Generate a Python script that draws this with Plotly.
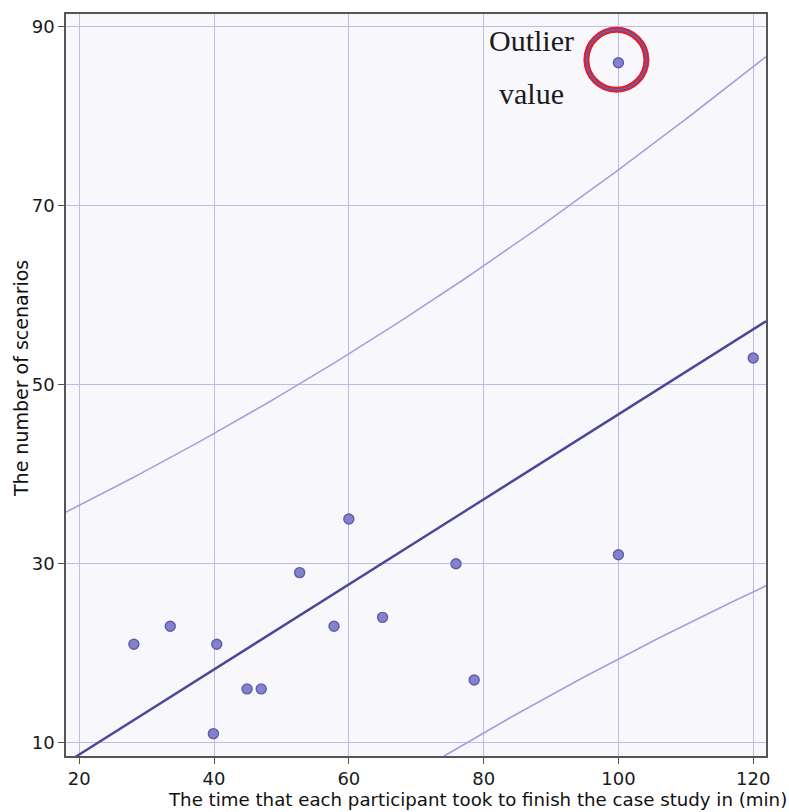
import numpy as np
import plotly.graph_objects as go

# Time each participant needed (min) and number of scenarios they produced
time_min = [28.1, 33.5, 40.4, 39.9, 44.9, 47.0, 52.7, 57.8, 60.0, 65.0, 75.9, 78.6, 100.0, 100.0, 120.0]
scenarios = [21, 23, 21, 11, 16, 16, 29, 23, 35, 24, 30, 17, 31, 86, 53]

x_ticks = [20, 40, 60, 80, 100, 120]
y_ticks = [10, 30, 50, 70, 90]
x_range = [18.03, 121.9]
y_range = [8.5, 91.45]

# Least-squares fit with a 90% prediction band (t, df = n - 2 = 13)
T_CRIT = 1.7709
x = np.asarray(time_min, float)
y = np.asarray(scenarios, float)
n = len(x)
slope, intercept = np.polyfit(x, y, 1)
resid = y - (slope * x + intercept)
s = np.sqrt((resid ** 2).sum() / (n - 2))
sxx = ((x - x.mean()) ** 2).sum()
xs = np.linspace(x_range[0], x_range[1], 200)
fit = slope * xs + intercept
half = T_CRIT * s * np.sqrt(1 + 1 / n + (xs - x.mean()) ** 2 / sxx)

BAND = "#a29fe0"
FIT = "#4a4896"
GRID = "#bcbce6"
FONT = "DejaVu Sans"

W, H = 789, 812
L, R, T, B = 66, 23, 12, 56


def px_to_paper(px, py):
    return (px - L) / (W - L - R), 1 - (py - T) / (H - T - B)


fig = go.Figure()
fig.add_trace(go.Scatter(x=xs, y=fit + half, mode="lines",
                         line=dict(color=BAND, width=1.6), hoverinfo="skip"))
fig.add_trace(go.Scatter(x=xs, y=fit - half, mode="lines",
                         line=dict(color=BAND, width=1.6), hoverinfo="skip"))
fig.add_trace(go.Scatter(x=xs, y=fit, mode="lines",
                         line=dict(color=FIT, width=2.4), hoverinfo="skip"))
fig.add_trace(go.Scatter(x=time_min, y=scenarios, mode="markers",
                         marker=dict(size=10, color="#8482cc",
                                     line=dict(color="#5e5caa", width=1.4))))

# Highlight the outlying participant
i_out = int(np.argmax(scenarios))
ox, oy = time_min[i_out], scenarios[i_out]
for col, w in (("#e0202a", 6), ("#4a6ad0", 1.3)):
    fig.add_shape(type="circle", xref="x", yref="y",
                  xsizemode="pixel", ysizemode="pixel",
                  xanchor=ox, yanchor=oy,
                  x0=-32, x1=28, y0=-27, y1=33,
                  line=dict(color=col, width=w))

fig.add_annotation(x=ox, y=oy, xref="x", yref="y", text="Outlier",
                   showarrow=False, xshift=-87, yshift=22,
                   font=dict(family="Liberation Serif", size=30, color="#1a1a1a"))
fig.add_annotation(x=ox, y=oy, xref="x", yref="y", text="value",
                   showarrow=False, xshift=-87, yshift=-31,
                   font=dict(family="Liberation Serif", size=30, color="#1a1a1a"))

# Axis titles
tx, ty = px_to_paper(477, 800)
fig.add_annotation(x=tx, y=ty, xref="paper", yref="paper", xanchor="center", yanchor="middle",
                   text="The time that each participant took to finish the case study in (min)",
                   showarrow=False, font=dict(family=FONT, size=18.2, color="#111"))
tx, ty = px_to_paper(21, 378)
fig.add_annotation(x=tx, y=ty, xref="paper", yref="paper", xanchor="center", yanchor="middle",
                   text="The number of scenarios", textangle=-90,
                   showarrow=False, font=dict(family=FONT, size=19, color="#111"))

axis_common = dict(showgrid=True, gridcolor=GRID, gridwidth=1,
                   showline=True, linecolor="#555555", linewidth=1.6, mirror=True,
                   ticks="outside", ticklen=6, tickwidth=1.2, tickcolor="#555555",
                   zeroline=False,
                   tickfont=dict(family=FONT, size=18, color="#1a1a1a"))

fig.update_layout(
    width=W, height=H,
    margin=dict(l=L, r=R, t=T, b=B),
    paper_bgcolor="white",
    plot_bgcolor="#f8f8fc",
    showlegend=False,
    xaxis=dict(range=x_range, tickvals=x_ticks, **axis_common),
    yaxis=dict(range=y_range, tickvals=y_ticks, **axis_common),
)

fig.write_html("out.html")
